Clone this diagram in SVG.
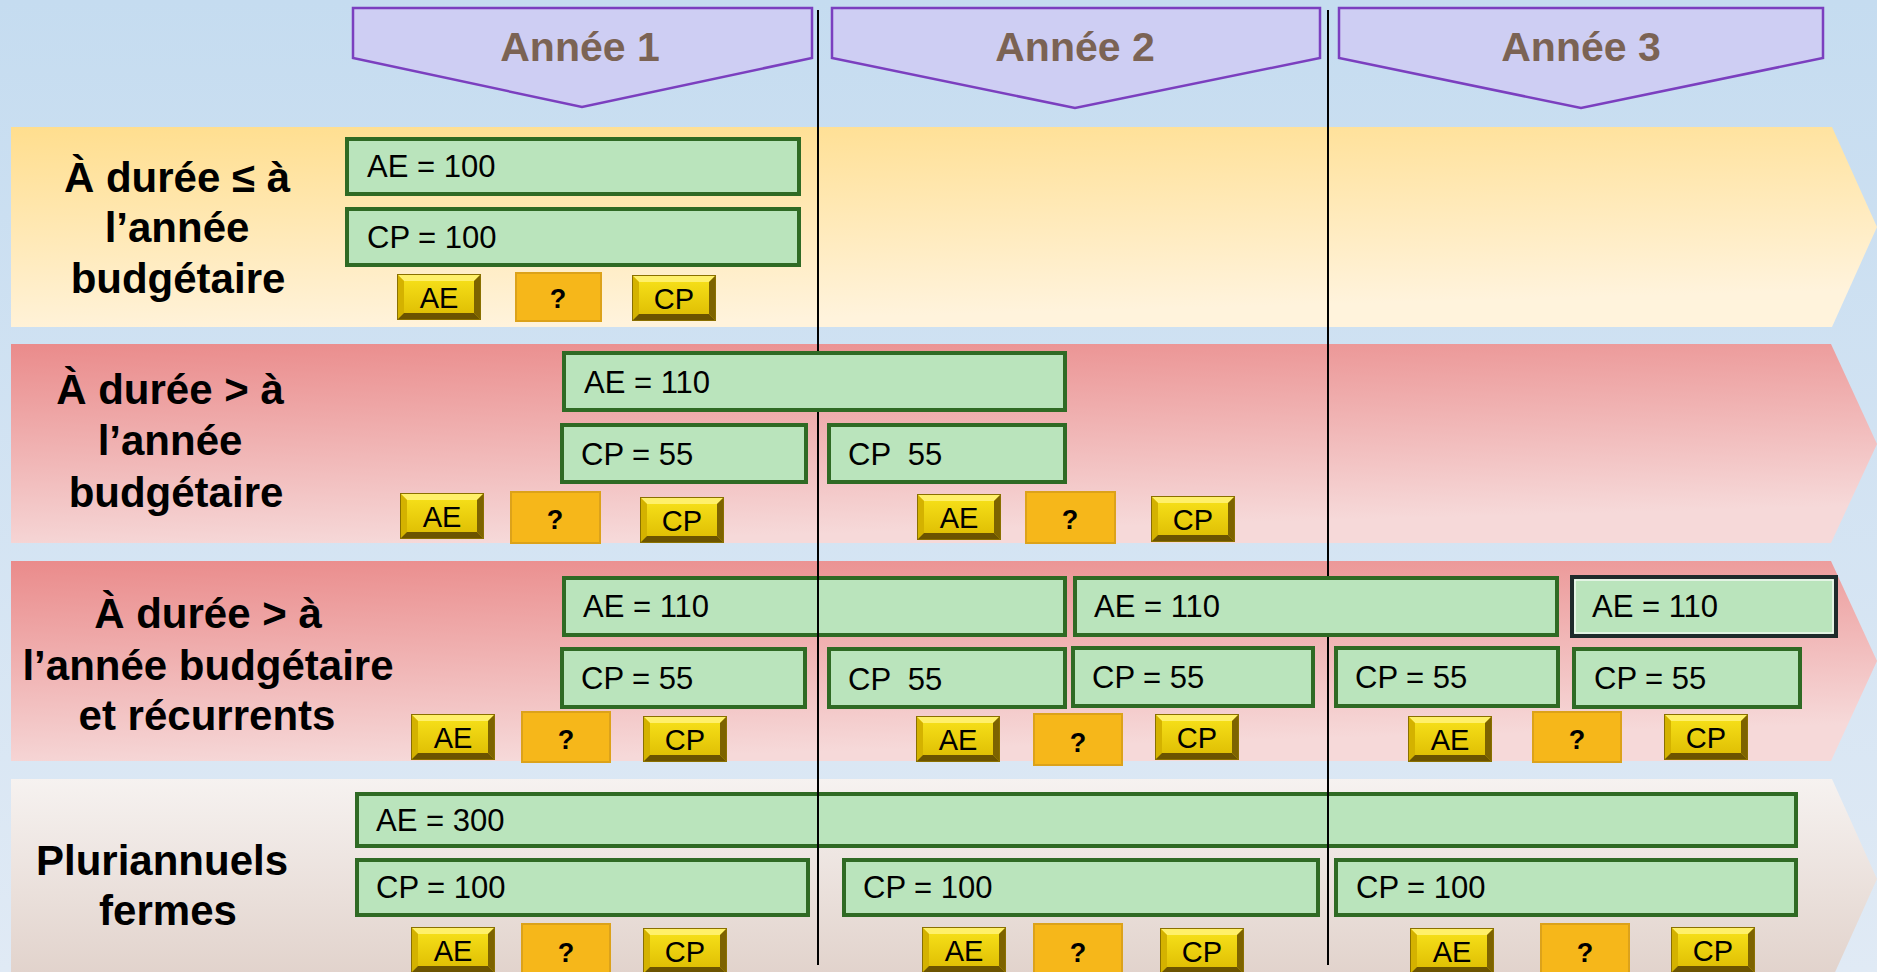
<svg xmlns="http://www.w3.org/2000/svg" xmlns:xlink="http://www.w3.org/1999/xlink" width="1877" height="972" viewBox="0 0 1877 972">
<defs>
<linearGradient id="bg" x1="0" y1="0" x2="0" y2="1"><stop offset="0" stop-color="#c5dcf0"/><stop offset="1" stop-color="#e0eaf5"/></linearGradient>
<linearGradient id="gY" x1="0" y1="0" x2="0.25" y2="1"><stop offset="0" stop-color="#ffde8e"/><stop offset="1" stop-color="#fff3dc"/></linearGradient>
<linearGradient id="gR" x1="0" y1="0" x2="0.25" y2="1"><stop offset="0" stop-color="#ea8b8b"/><stop offset="1" stop-color="#f6d9d9"/></linearGradient>
<linearGradient id="gG" x1="0" y1="0" x2="0" y2="1"><stop offset="0" stop-color="#f6f2f0"/><stop offset="1" stop-color="#e1d2cb"/></linearGradient>
<linearGradient id="gold" x1="0" y1="0" x2="0" y2="1"><stop offset="0" stop-color="#f9e41c"/><stop offset="1" stop-color="#dcba00"/></linearGradient>
<symbol id="bev" viewBox="0 0 84 46">
<rect x="0" y="0" width="84" height="46" fill="url(#gold)"/>
<polygon points="0,0 84,0 77,7 7,7" fill="#fff06a"/>
<polygon points="0,0 7,7 7,39 0,46" fill="#d4b200"/>
<polygon points="84,0 84,46 77,39 77,7" fill="#7d6300"/>
<polygon points="0,46 7,39 77,39 84,46" fill="#6c5400"/>
<rect x="0.5" y="0.5" width="83" height="45" fill="none" stroke="#8a7000" stroke-width="1"/>
</symbol>
</defs>
<style>
.band-lbl{font-family:"Liberation Sans",Arial,sans-serif;font-weight:bold;font-size:42px;fill:#000;text-anchor:middle}
.yr{font-family:"Liberation Sans",Arial,sans-serif;font-weight:bold;font-size:41px;fill:#7b6354;text-anchor:middle}
.pent{fill:#cecef3;stroke:#7b3fbf;stroke-width:2.5}
.box{fill:#bae4bc;stroke:#2f6a24;stroke-width:4}
.boxd{fill:#bae4bc;stroke:#1e2b2b;stroke-width:4}
.bt{font-family:"Liberation Sans",Arial,sans-serif;font-size:31px;fill:#000;white-space:pre}
.btn{font-family:"Liberation Sans",Arial,sans-serif;font-size:29px;fill:#000;text-anchor:middle}
.q{fill:#f6b71a;stroke:#dca21a;stroke-width:2}
.qt{font-family:"Liberation Sans",Arial,sans-serif;font-weight:bold;font-size:27px;fill:#000;text-anchor:middle}
.div{stroke:#000;stroke-width:2}
</style>
<rect width="1877" height="972" fill="url(#bg)"/>

<g id="bands">
<polygon points="11,127 1832,127 1877,227 1832,327 11,327" fill="url(#gY)"/>
<polygon points="11,344 1831,344 1877,444 1831,543 11,543" fill="url(#gR)"/>
<polygon points="11,561 1831,561 1877,661 1831,761 11,761" fill="url(#gR)"/>
<polygon points="11,779 1832,779 1877,879 1832,979 11,979" fill="url(#gG)"/>
</g>

<g id="year1"><polygon class="pent" points="353,8 812,8 812,58 582,107 353,58"/><text class="yr" x="580" y="61">Année 1</text></g>
<g id="year2"><polygon class="pent" points="832,8 1320,8 1320,58 1075,108 832,58"/><text class="yr" x="1075" y="61">Année 2</text></g>
<g id="year3"><polygon class="pent" points="1339,8 1823,8 1823,58 1581,108 1339,58"/><text class="yr" x="1581" y="61">Année 3</text></g>

<g id="label1"><text class="band-lbl" x="177" y="192">À durée ≤ à</text><text class="band-lbl" x="177" y="242">l’année</text><text class="band-lbl" x="178" y="293">budgétaire</text></g>
<g id="label2"><text class="band-lbl" x="170" y="404">À durée &gt; à</text><text class="band-lbl" x="170" y="455">l’année</text><text class="band-lbl" x="176" y="507">budgétaire</text></g>
<g id="label3"><text class="band-lbl" x="208" y="628">À durée &gt; à</text><text class="band-lbl" x="208" y="680">l’année budgétaire</text><text class="band-lbl" x="207" y="730">et récurrents</text></g>
<g id="label4"><text class="band-lbl" x="162" y="875">Pluriannuels</text><text class="band-lbl" x="168" y="925">fermes</text></g>

<g id="r3-ae1"><rect class="box" x="564" y="578" width="501" height="57"/><text class="bt" x="583" y="617">AE = 110</text></g>
<g id="r4-ae"><rect class="box" x="357" y="794" width="1439" height="52"/><text class="bt" x="376" y="831">AE = 300</text></g>

<g id="connectors">
<line class="div" x1="818" y1="10" x2="818" y2="965"/>
<line class="div" x1="1328" y1="10" x2="1328" y2="965"/>
</g>

<g id="r1-ae"><rect class="box" x="347" y="139" width="452" height="55"/><text class="bt" x="367" y="177">AE = 100</text></g>
<g id="r1-cp"><rect class="box" x="347" y="209" width="452" height="56"/><text class="bt" x="367" y="248">CP = 100</text></g>

<g id="r2-ae"><rect class="box" x="564" y="353" width="501" height="57"/><text class="bt" x="584" y="393">AE = 110</text></g>
<g id="r2-cp1"><rect class="box" x="562" y="425" width="244" height="57"/><text class="bt" x="581" y="465">CP = 55</text></g>
<g id="r2-cp2"><rect class="box" x="829" y="425" width="236" height="57"/><text class="bt" x="848" y="465" xml:space="preserve">CP  55</text></g>

<g id="r3-ae2"><rect class="box" x="1075" y="578" width="482" height="57"/><text class="bt" x="1094" y="617">AE = 110</text></g>
<g id="r3-ae3"><rect class="boxd" x="1572" y="577" width="264" height="59"/><rect x="1575" y="580" width="258" height="53" fill="none" stroke="#ffffff" stroke-width="1.2"/><text class="bt" x="1592" y="617">AE = 110</text></g>
<g id="r3-cp1"><rect class="box" x="562" y="649" width="243" height="58"/><text class="bt" x="581" y="689">CP = 55</text></g>
<g id="r3-cp2"><rect class="box" x="829" y="649" width="236" height="58"/><text class="bt" x="848" y="690" xml:space="preserve">CP  55</text></g>
<g id="r3-cp3"><rect class="box" x="1073" y="648" width="240" height="58"/><text class="bt" x="1092" y="688">CP = 55</text></g>
<g id="r3-cp4"><rect class="box" x="1336" y="648" width="222" height="58"/><text class="bt" x="1355" y="688">CP = 55</text></g>
<g id="r3-cp5"><rect class="box" x="1574" y="649" width="226" height="58"/><text class="bt" x="1594" y="689">CP = 55</text></g>

<g id="r4-cp1"><rect class="box" x="357" y="860" width="451" height="55"/><text class="bt" x="376" y="898">CP = 100</text></g>
<g id="r4-cp2"><rect class="box" x="844" y="860" width="474" height="55"/><text class="bt" x="863" y="898">CP = 100</text></g>
<g id="r4-cp3"><rect class="box" x="1336" y="860" width="460" height="55"/><text class="bt" x="1356" y="898">CP = 100</text></g>

<g id="b1-ae"><use href="#bev" x="397" y="274" width="84" height="46"/><text class="btn" x="439" y="308">AE</text></g>
<g id="b1-q"><rect class="q" x="516" y="273" width="85" height="48"/><text class="qt" x="558" y="308">?</text></g>
<g id="b1-cp"><use href="#bev" x="632" y="275" width="84" height="46"/><text class="btn" x="674" y="309">CP</text></g>

<g id="b2-ae1"><use href="#bev" x="400" y="493" width="84" height="46"/><text class="btn" x="442" y="527">AE</text></g>
<g id="b2-q1"><rect class="q" x="511" y="492" width="89" height="51"/><text class="qt" x="555" y="529">?</text></g>
<g id="b2-cp1"><use href="#bev" x="640" y="497" width="84" height="46"/><text class="btn" x="682" y="531">CP</text></g>
<g id="b2-ae2"><use href="#bev" x="917" y="494" width="84" height="46"/><text class="btn" x="959" y="528">AE</text></g>
<g id="b2-q2"><rect class="q" x="1026" y="492" width="89" height="51"/><text class="qt" x="1070" y="529">?</text></g>
<g id="b2-cp2"><use href="#bev" x="1151" y="496" width="84" height="46"/><text class="btn" x="1193" y="530">CP</text></g>

<g id="b3-ae1"><use href="#bev" x="411" y="714" width="84" height="46"/><text class="btn" x="453" y="748">AE</text></g>
<g id="b3-q1"><rect class="q" x="522" y="712" width="88" height="50"/><text class="qt" x="566" y="749">?</text></g>
<g id="b3-cp1"><use href="#bev" x="643" y="716" width="84" height="46"/><text class="btn" x="685" y="750">CP</text></g>
<g id="b3-ae2"><use href="#bev" x="916" y="716" width="84" height="46"/><text class="btn" x="958" y="750">AE</text></g>
<g id="b3-q2"><rect class="q" x="1034" y="714" width="88" height="51"/><text class="qt" x="1078" y="752">?</text></g>
<g id="b3-cp2"><use href="#bev" x="1155" y="714" width="84" height="46"/><text class="btn" x="1197" y="748">CP</text></g>
<g id="b3-ae3"><use href="#bev" x="1408" y="716" width="84" height="46"/><text class="btn" x="1450" y="750">AE</text></g>
<g id="b3-q3"><rect class="q" x="1533" y="712" width="88" height="50"/><text class="qt" x="1577" y="749">?</text></g>
<g id="b3-cp3"><use href="#bev" x="1664" y="714" width="84" height="46"/><text class="btn" x="1706" y="748">CP</text></g>

<g id="b4-ae1"><use href="#bev" x="411" y="927" width="84" height="46"/><text class="btn" x="453" y="961">AE</text></g>
<g id="b4-q1"><rect class="q" x="522" y="924" width="88" height="50"/><text class="qt" x="566" y="962">?</text></g>
<g id="b4-cp1"><use href="#bev" x="643" y="928" width="84" height="46"/><text class="btn" x="685" y="962">CP</text></g>
<g id="b4-ae2"><use href="#bev" x="922" y="927" width="84" height="46"/><text class="btn" x="964" y="961">AE</text></g>
<g id="b4-q2"><rect class="q" x="1034" y="924" width="88" height="50"/><text class="qt" x="1078" y="962">?</text></g>
<g id="b4-cp2"><use href="#bev" x="1160" y="928" width="84" height="46"/><text class="btn" x="1202" y="962">CP</text></g>
<g id="b4-ae3"><use href="#bev" x="1410" y="928" width="84" height="46"/><text class="btn" x="1452" y="962">AE</text></g>
<g id="b4-q3"><rect class="q" x="1541" y="924" width="88" height="50"/><text class="qt" x="1585" y="962">?</text></g>
<g id="b4-cp3"><use href="#bev" x="1671" y="927" width="84" height="46"/><text class="btn" x="1713" y="961">CP</text></g>
</svg>
